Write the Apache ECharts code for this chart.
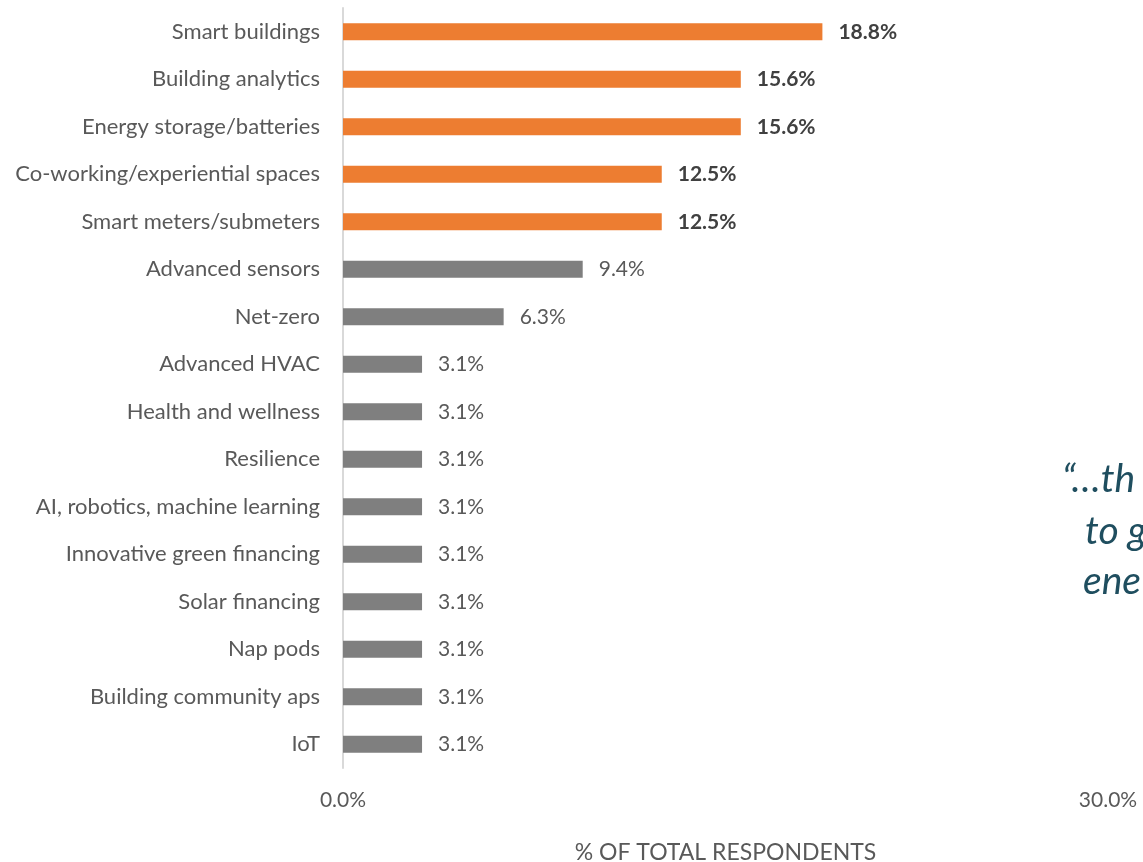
<!DOCTYPE html>
<html>
<head>
<meta charset="utf-8">
<script src="https://cdn.jsdelivr.net/npm/echarts@6/dist/echarts.min.js"></script>
<style>
  html, body { margin: 0; padding: 0; background: #fff; }
  #chart { width: 1143px; height: 862px; }
</style>
</head>
<body>
<div id="chart"></div>
<script>
// Technologies, listed top to bottom
const categories = [
  'Smart buildings',
  'Building analytics',
  'Energy storage/batteries',
  'Co-working/experiential spaces',
  'Smart meters/submeters',
  'Advanced sensors',
  'Net-zero',
  'Advanced HVAC',
  'Health and wellness',
  'Resilience',
  'AI, robotics, machine learning',
  'Innovative green financing',
  'Solar financing',
  'Nap pods',
  'Building community aps',
  'IoT'
];
// Share of respondents (%)
const values = [18.8, 15.6, 15.6, 12.5, 12.5, 9.4, 6.3, 3.1, 3.1, 3.1, 3.1, 3.1, 3.1, 3.1, 3.1, 3.1];
// How many of the leading items are highlighted
const highlightCount = 5;
const axisTicks = [0, 30];
const axisTitle = '% OF TOTAL RESPONDENTS';
const quoteLines = ['\u201C\u2026th', 'to g', 'ene'];

const FONT = 'Lato, "Open Sans", sans-serif';
const ORANGE = '#ED7D31';
const GREY = '#7F7F7F';
const FS = 22;

// ECharts draws category axes bottom-up, so reverse for a top-down list
const revCats = categories.slice().reverse();
const revData = values.slice().reverse().map((v, i) => {
  const origIdx = values.length - 1 - i;
  const hi = origIdx < highlightCount;
  return {
    value: v,
    itemStyle: { color: hi ? ORANGE : GREY },
    label: {
      fontWeight: hi ? 'bold' : 'normal',
      color: hi ? '#404040' : '#595959'
    }
  };
});

const chart = echarts.init(document.getElementById('chart'));
chart.setOption({
  backgroundColor: '#fff',
  animation: false,
  grid: {
    left: 343, right: 35, top: 8, bottom: 94,
    containLabel: false,
    outerBoundsMode: 'none'
  },
  xAxis: {
    type: 'value',
    min: axisTicks[0],
    max: axisTicks[1],
    interval: axisTicks[1] - axisTicks[0],
    axisLine: { show: false },
    axisTick: { show: false },
    splitLine: { show: false },
    axisLabel: {
      fontFamily: FONT, fontSize: FS - 1, color: '#595959', margin: 22,
      formatter: v => v.toFixed(1) + '%'
    },
    name: axisTitle,
    nameLocation: 'middle',
    nameGap: 73,
    nameTextStyle: { fontFamily: FONT, fontSize: FS + 1, color: '#595959' }
  },
  yAxis: {
    type: 'category',
    data: revCats,
    axisLine: { show: true, lineStyle: { color: '#D9D9D9', width: 2 } },
    axisTick: { show: false },
    axisLabel: { fontFamily: FONT, fontSize: FS, color: '#595959', margin: 23 }
  },
  series: [{
    type: 'bar',
    data: revData,
    barWidth: 17,
    label: {
      show: true,
      position: 'right',
      distance: 16,
      fontFamily: FONT,
      fontSize: FS - 1,
      formatter: p => p.value.toFixed(1) + '%'
    }
  }],
  graphic: quoteLines.map((t, i) => ({
    type: 'text',
    left: [1062, 1085, 1083][i],
    top: [460, 512, 562][i],
    style: {
      text: t,
      font: 'italic 39px ' + FONT,
      fill: '#1F4E5F'
    }
  }))
});
</script>
</body>
</html>
